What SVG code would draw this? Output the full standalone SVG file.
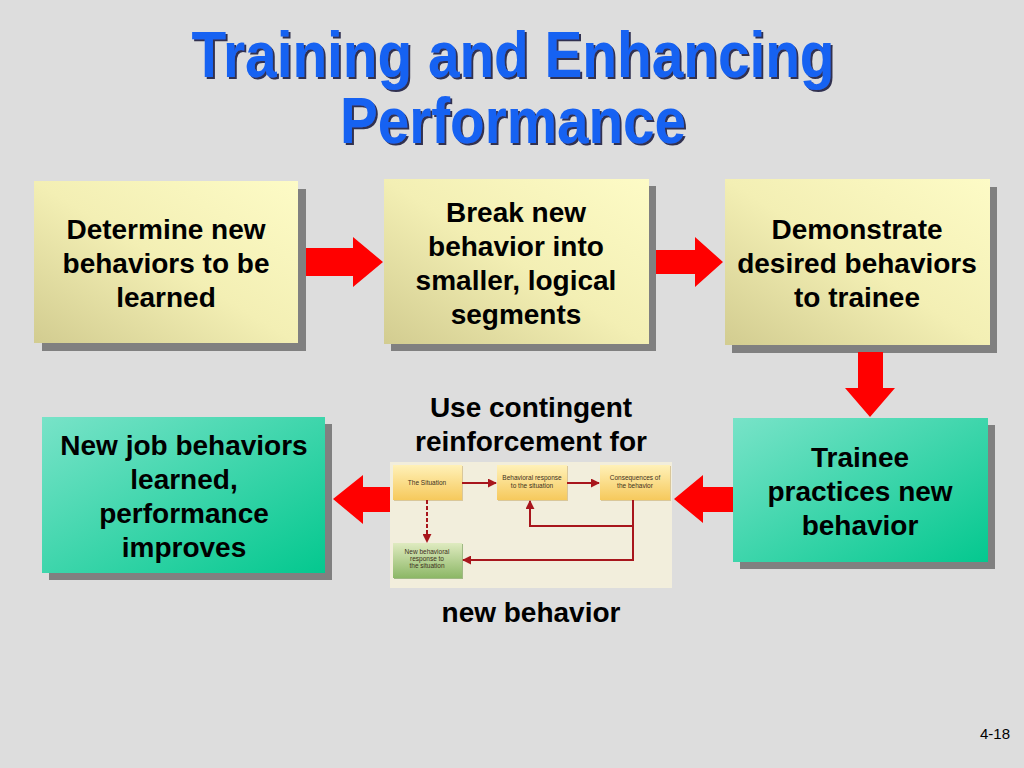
<svg xmlns="http://www.w3.org/2000/svg" width="1024" height="768" viewBox="0 0 1024 768">
<defs>
<linearGradient id="gy" x1="1" y1="0" x2="0" y2="1">
<stop offset="0" stop-color="#fdfbc6"/>
<stop offset="0.5" stop-color="#f3efb4"/>
<stop offset="1" stop-color="#d2cc90"/>
</linearGradient>
<linearGradient id="gg" x1="0" y1="0" x2="1" y2="1">
<stop offset="0" stop-color="#78e3c8"/>
<stop offset="1" stop-color="#04c88f"/>
</linearGradient>
<linearGradient id="sy" x1="0" y1="0" x2="0" y2="1">
<stop offset="0" stop-color="#fff1b8"/>
<stop offset="1" stop-color="#f6c95c"/>
</linearGradient>
<linearGradient id="sg" x1="0" y1="0" x2="0" y2="1">
<stop offset="0" stop-color="#dfebc0"/>
<stop offset="1" stop-color="#8cb766"/>
</linearGradient>
<filter id="tshadow" x="-5%" y="-10%" width="110%" height="130%">
<feDropShadow dx="2" dy="2" stdDeviation="0.6" flood-color="#1a1a40" flood-opacity="0.9"/>
</filter>
<marker id="ahs" viewBox="0 0 10 10" refX="9" refY="5" markerWidth="9" markerHeight="9" orient="auto" markerUnits="userSpaceOnUse">
<path d="M0,0 L10,5 L0,10 z" fill="#a8161c"/>
</marker>
</defs>
<style>
.t{font-family:"Liberation Sans",Arial,sans-serif;font-weight:bold;font-size:28px;fill:#000;text-anchor:middle}
.title{font-family:"Liberation Sans Narrow","Arial Narrow","Liberation Sans",sans-serif;font-weight:bold;font-size:64px;fill:#1862f2;text-anchor:middle}
.sh{fill:#808080}
.ar{fill:#ff0000}
.st{font-family:"Liberation Sans",Arial,sans-serif;font-size:6.5px;fill:#3d3020;text-anchor:middle}
.cn{stroke:#a8161c;stroke-width:2;fill:none}
</style>
<rect width="1024" height="768" fill="#dddddd"/>

<g id="title" filter="url(#tshadow)">
<text class="title" x="513" y="77" textLength="643" lengthAdjust="spacingAndGlyphs">Training and Enhancing</text>
<text class="title" x="513" y="143" textLength="346" lengthAdjust="spacingAndGlyphs">Performance</text>
</g>

<g id="n1">
<rect class="sh" x="42" y="189" width="264" height="162"/>
<rect x="34" y="181" width="264" height="162" fill="url(#gy)"/>
<text class="t" x="166" y="239">Determine new</text>
<text class="t" x="166" y="273">behaviors to be</text>
<text class="t" x="166" y="307">learned</text>
</g>

<g id="n2">
<rect class="sh" x="391" y="186" width="265" height="165"/>
<rect x="384" y="179" width="265" height="165" fill="url(#gy)"/>
<text class="t" x="516" y="222">Break new</text>
<text class="t" x="516" y="256">behavior into</text>
<text class="t" x="516" y="290">smaller, logical</text>
<text class="t" x="516" y="324">segments</text>
</g>

<g id="n3">
<rect class="sh" x="732" y="187" width="265" height="166"/>
<rect x="725" y="179" width="265" height="166" fill="url(#gy)"/>
<text class="t" x="857" y="239">Demonstrate</text>
<text class="t" x="857" y="273">desired behaviors</text>
<text class="t" x="857" y="307">to trainee</text>
</g>

<g id="n4">
<rect class="sh" x="740" y="425" width="255" height="144"/>
<rect x="733" y="418" width="255" height="144" fill="url(#gg)"/>
<text class="t" x="860" y="467">Trainee</text>
<text class="t" x="860" y="501">practices new</text>
<text class="t" x="860" y="535">behavior</text>
</g>

<g id="n5">
<rect class="sh" x="49" y="424" width="283" height="156"/>
<rect x="42" y="417" width="283" height="156" fill="url(#gg)"/>
<text class="t" x="184" y="455">New job behaviors</text>
<text class="t" x="184" y="489">learned,</text>
<text class="t" x="184" y="523">performance</text>
<text class="t" x="184" y="557">improves</text>
</g>

<g id="n6">
<text class="t" x="531" y="417">Use contingent</text>
<text class="t" x="531" y="451">reinforcement for</text>
<rect x="390" y="462" width="282" height="126" fill="#f2eedc"/>
<g id="s1">
<rect x="394" y="466" width="69" height="35" fill="#d9c79a"/>
<rect x="393" y="465" width="69" height="35" fill="url(#sy)"/>
<text class="st" x="427" y="485">The Situation</text>
</g>
<g id="s2">
<rect x="498" y="466" width="70" height="35" fill="#d9c79a"/>
<rect x="497" y="465" width="70" height="35" fill="url(#sy)"/>
<text class="st" x="532" y="480">Behavioral response</text>
<text class="st" x="532" y="488">to the situation</text>
</g>
<g id="s3">
<rect x="601" y="466" width="70" height="35" fill="#d9c79a"/>
<rect x="600" y="465" width="70" height="35" fill="url(#sy)"/>
<text class="st" x="635" y="480">Consequences of</text>
<text class="st" x="635" y="488">the behavior</text>
</g>
<g id="s4">
<rect x="394" y="544" width="69" height="35" fill="#9fb883"/>
<rect x="393" y="543" width="69" height="35" fill="url(#sg)"/>
<text class="st" x="427" y="554">New behavioral</text>
<text class="st" x="427" y="561">response to</text>
<text class="st" x="427" y="568">the situation</text>
</g>
<g id="small-connectors">
<line class="cn" x1="462" y1="483" x2="496" y2="483" marker-end="url(#ahs)"/>
<line class="cn" x1="567" y1="483" x2="599" y2="483" marker-end="url(#ahs)"/>
<line class="cn" x1="427" y1="500" x2="427" y2="542" stroke-dasharray="4,2" marker-end="url(#ahs)"/>
<polyline class="cn" points="633,500 633,526 530,526 530,501" marker-end="url(#ahs)"/>
<polyline class="cn" points="633,526 633,560 463,560" marker-end="url(#ahs)"/>
</g>
</g>

<text class="t" x="531" y="622">new behavior</text>

<g id="connectors">
<polygon class="ar" points="306,248 353,248 353,237 383,262 353,287 353,276 306,276"/>
<polygon class="ar" points="656,250 695,250 695,237 723,262 695,287 695,274 656,274"/>
<polygon class="ar" points="858,352 883,352 883,388 895,388 870,417 845,388 858,388"/>
<polygon class="ar" points="733,487 703,487 703,475 674,499 703,523 703,512 733,512"/>
<polygon class="ar" points="390,487 363,487 363,475 333,499 363,524 363,512 390,512"/>
</g>

<text x="1010" y="739" font-family="Liberation Sans,Arial,sans-serif" font-size="15" text-anchor="end" fill="#000">4-18</text>
</svg>
